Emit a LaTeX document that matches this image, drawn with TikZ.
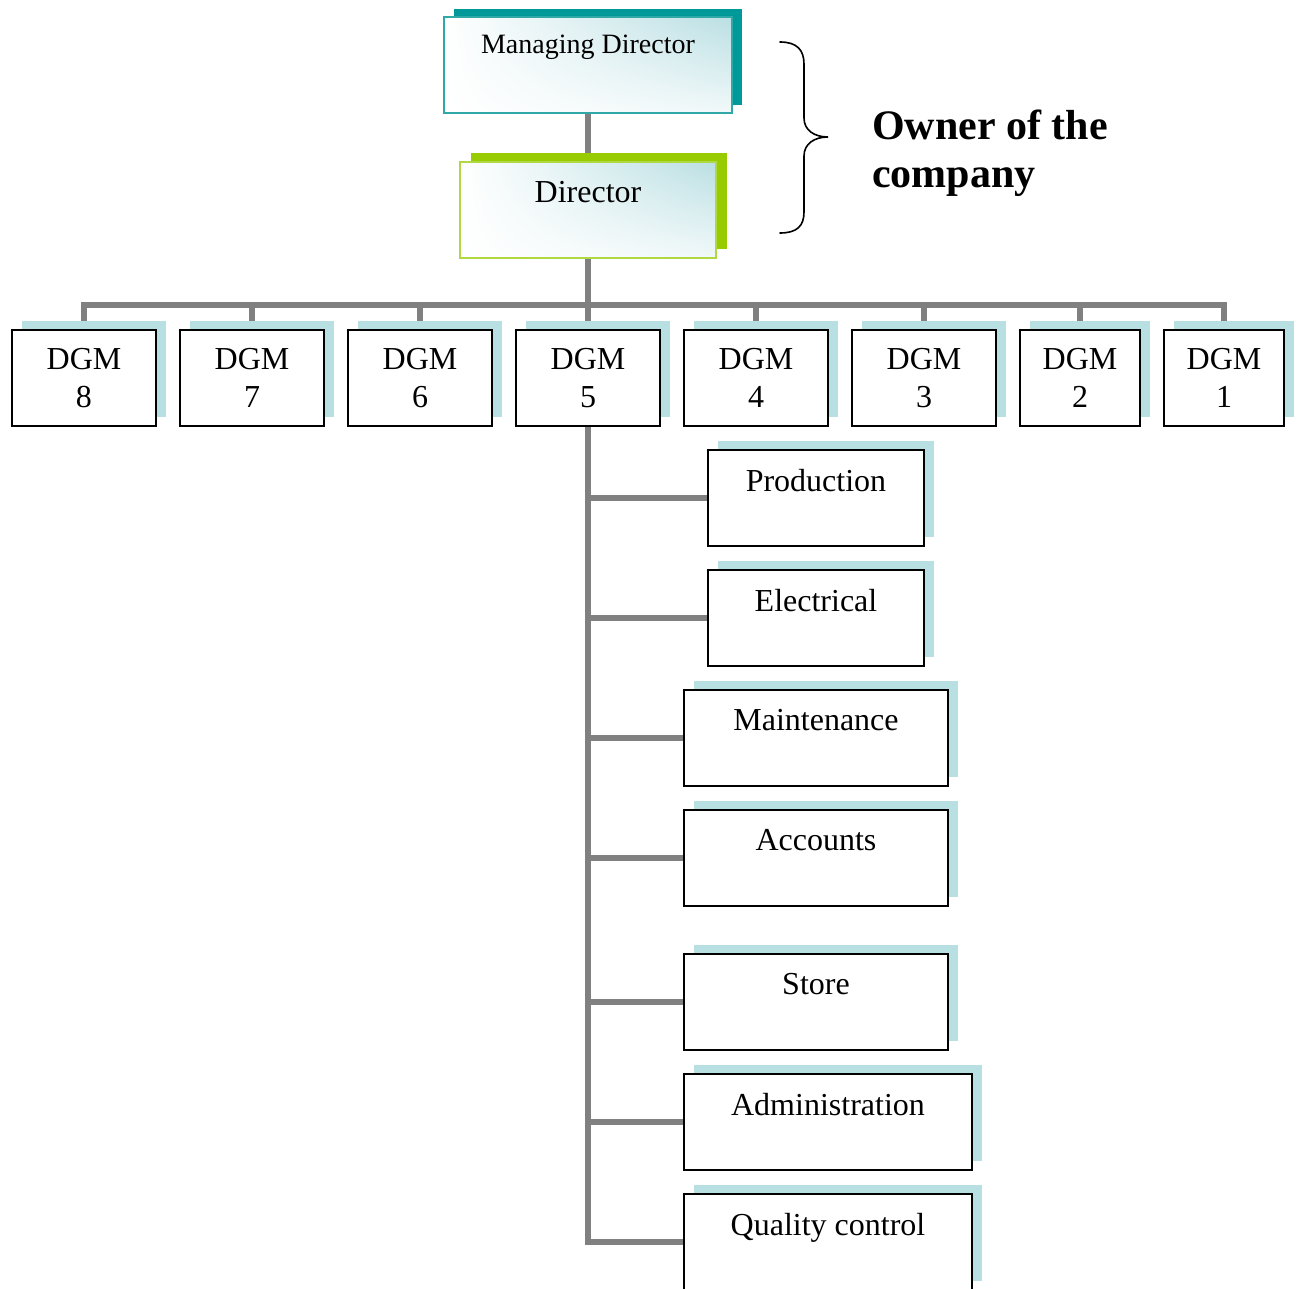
\documentclass[tikz,border=0pt]{standalone}
\usepackage{fontspec}
\setmainfont{Liberation Serif}
\usetikzlibrary{shadows,shadings}

\definecolor{linegray}{HTML}{808080}
\definecolor{shcyan}{HTML}{B8DFE2}
\definecolor{mdteal}{HTML}{009999}
\definecolor{mdedge}{HTML}{2FA8A8}
\definecolor{dirgreen}{HTML}{99CC00}
\definecolor{diredge}{HTML}{B0D842}
\definecolor{gradblue}{HTML}{BADFE3}

\pgfdeclarelayer{background}
\pgfsetlayers{background,main}

\begin{document}
\begin{tikzpicture}[x=1pt,y=-1pt,
  conn/.style={draw=linegray, line width=5.5pt},
  orgbox/.style={draw=black, line width=1.6pt, fill=white,
    minimum width=144pt, minimum height=96pt, inner sep=0pt, align=center,
    font=\fontsize{32}{38}\selectfont,
    general shadow={fill=shcyan, shadow xshift=10pt, shadow yshift=9pt}},
  deptbox/.style={orgbox, font=\fontsize{32}{36}\selectfont},
  headbox/.style={line width=1.6pt, inner sep=0pt, align=center,
    minimum height=96pt, upper left=white, upper right=gradblue,
    lower left=white, lower right=white!80!gradblue},
]
\useasboundingbox (0,0) rectangle (1298,1289);

% top of the hierarchy
\node[headbox, draw=mdedge, minimum width=288pt,
  font=\fontsize{28}{42}\selectfont,
  general shadow={fill=mdteal, shadow xshift=10pt, shadow yshift=8pt}]
  (md) at (588,65) {Managing Director\\\mbox{}};
\node[headbox, draw=diredge, minimum width=256pt,
  font=\fontsize{32}{37}\selectfont,
  general shadow={fill=dirgreen, shadow xshift=11pt, shadow yshift=9pt}]
  (dir) at (588,210) {Director\\\mbox{}};

% owner brace and note
\draw[line width=1.6pt, line cap=round]
  (780,42) .. controls (797,42) and (804,50) .. (804,64) -- (804,118)
  .. controls (804,130) and (814,137) .. (828,137)
  .. controls (814,137) and (804,144) .. (804,156) -- (804,212)
  .. controls (804,226) and (797,233) .. (780,233);
\node[anchor=north west, inner sep=0pt, align=left,
  font=\fontsize{42}{48}\selectfont\bfseries]
  (owner) at (872,110) {Owner of the\\company};

% deputy general managers
\coordinate (bus) at (588,305);
\node[orgbox] (dgm8) at (84,378) {DGM\\8};
\node[orgbox] (dgm7) at (252,378) {DGM\\7};
\node[orgbox] (dgm6) at (420,378) {DGM\\6};
\node[orgbox] (dgm5) at (588,378) {DGM\\5};
\node[orgbox] (dgm4) at (756,378) {DGM\\4};
\node[orgbox] (dgm3) at (924,378) {DGM\\3};
\node[orgbox, minimum width=120pt] (dgm2) at (1080,378) {DGM\\2};
\node[orgbox, minimum width=120pt] (dgm1) at (1224,378) {DGM\\1};

% departments under DGM 5
\node[deptbox, minimum width=216pt] (prod)  at (816,498)  {Production\\\mbox{}};
\node[deptbox, minimum width=216pt] (elec)  at (816,618)  {Electrical\\\mbox{}};
\node[deptbox, minimum width=264pt] (maint) at (816,738)  {Maintenance\\\mbox{}};
\node[deptbox, minimum width=264pt] (acc)   at (816,858)  {Accounts\\\mbox{}};
\node[deptbox, minimum width=264pt] (store) at (816,1002) {Store\\\mbox{}};
\node[deptbox, minimum width=288pt] (adm)   at (828,1122) {Administration\\\mbox{}};
\node[deptbox, minimum width=288pt] (qc)    at (828,1242) {Quality control\\\mbox{}};

% connectors
\begin{pgfonlayer}{background}
  \draw[conn] (md.south) -- (dir.north);
  \draw[conn] (dir.south) -- (bus);
  \draw[conn] (dgm8.north) |- (bus) -| (dgm1.north);
  \foreach \n in {dgm7,dgm6,dgm5,dgm4,dgm3,dgm2}
    \draw[conn] (bus -| \n.north) -- (\n.north);
  \draw[conn] (dgm5.south) |- (qc.west);
  \foreach \n in {prod,elec,maint,acc,store,adm}
    \draw[conn] (dgm5.south |- \n.west) -- (\n.west);
\end{pgfonlayer}
\end{tikzpicture}
\end{document}
